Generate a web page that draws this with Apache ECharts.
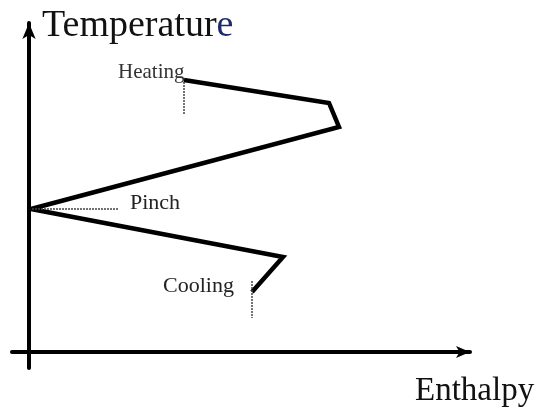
<!DOCTYPE html>
<html>
<head>
<meta charset="utf-8">
<script src="https://cdn.jsdelivr.net/npm/echarts@6/dist/echarts.min.js"></script>
<style>html,body{margin:0;padding:0;background:#fff;}</style>
</head>
<body>
<div id="gcc" style="width: 542px; height: 412px;"></div>
<script type="text/javascript">
	// 曲线折点 (enthalpy, temperature)
	var curveX = [155, 300, 310, 2, 254, 223];
	var curveY = [272, 249, 225, 143, 95, 60];
	// 虚线
	var heatDash = [[155, 270], [155, 237]];
	var pinchDash = [[3, 143], [89, 143]];
	var coolDash = [[223, 71], [223, 34]];
	var labels = ['Heating', 'Pinch', 'Cooling'];

	var curve = curveX.map(function (x, i) { return [x, curveY[i]]; });
	var dashStyle = { color: '#444', width: 1.5, type: [2, 1] };
	var font = '"Liberation Serif", "Times New Roman", serif';

	var option = {
		animation : false,
		grid : { left : 12, right : 72, top : 23, bottom : 44 },
		xAxis : {
			type : 'value', min : -17, max : 441,
			axisLine : { onZero : true, symbol : [ 'none', 'arrow' ], symbolSize : [ 9, 14 ],
				lineStyle : { color : '#000', width : 4 } },
			axisTick : { show : false }, axisLabel : { show : false }, splitLine : { show : false }
		},
		yAxis : {
			type : 'value', min : -16, max : 329,
			axisLine : { onZero : true, symbol : [ 'none', 'arrow' ], symbolSize : [ 10, 16 ],
				lineStyle : { color : '#000', width : 4 } },
			axisTick : { show : false }, axisLabel : { show : false }, splitLine : { show : false }
		},
		series : [ {
			type : 'line', data : curve, symbol : 'none',
			lineStyle : { color : '#000', width : 4.5, join : 'miter', miterLimit : 3 }
		}, {
			type : 'line', data : heatDash, symbol : 'none', lineStyle : dashStyle
		}, {
			type : 'line', data : pinchDash, symbol : 'none', lineStyle : dashStyle
		}, {
			type : 'line', data : coolDash, symbol : 'none', lineStyle : dashStyle
		} ],
		graphic : [ {
			type : 'text', left : 42, top : 7,
			style : { text : '{a|Temperatur}{b|e}', rich : {
				a : { fontFamily : font, fontSize : 38, fill : '#111' },
				b : { fontFamily : font, fontSize : 38, fill : '#1c2a6b' } } }
		}, {
			type : 'text', left : 415, top : 375,
			style : { text : 'Enthalpy', fontFamily : font, fontSize : 33, fill : '#111' }
		}, {
			type : 'text', left : 118, top : 62,
			style : { text : labels[0], fontFamily : font, fontSize : 21, fill : '#333' }
		}, {
			type : 'text', left : 130, top : 192,
			style : { text : labels[1], fontFamily : font, fontSize : 22, fill : '#222' }
		}, {
			type : 'text', left : 163, top : 275,
			style : { text : labels[2], fontFamily : font, fontSize : 22, fill : '#222' }
		} ]
	};

	var chart = echarts.init(document.getElementById('gcc'));
	chart.setOption(option);
</script>
</body>
</html>
